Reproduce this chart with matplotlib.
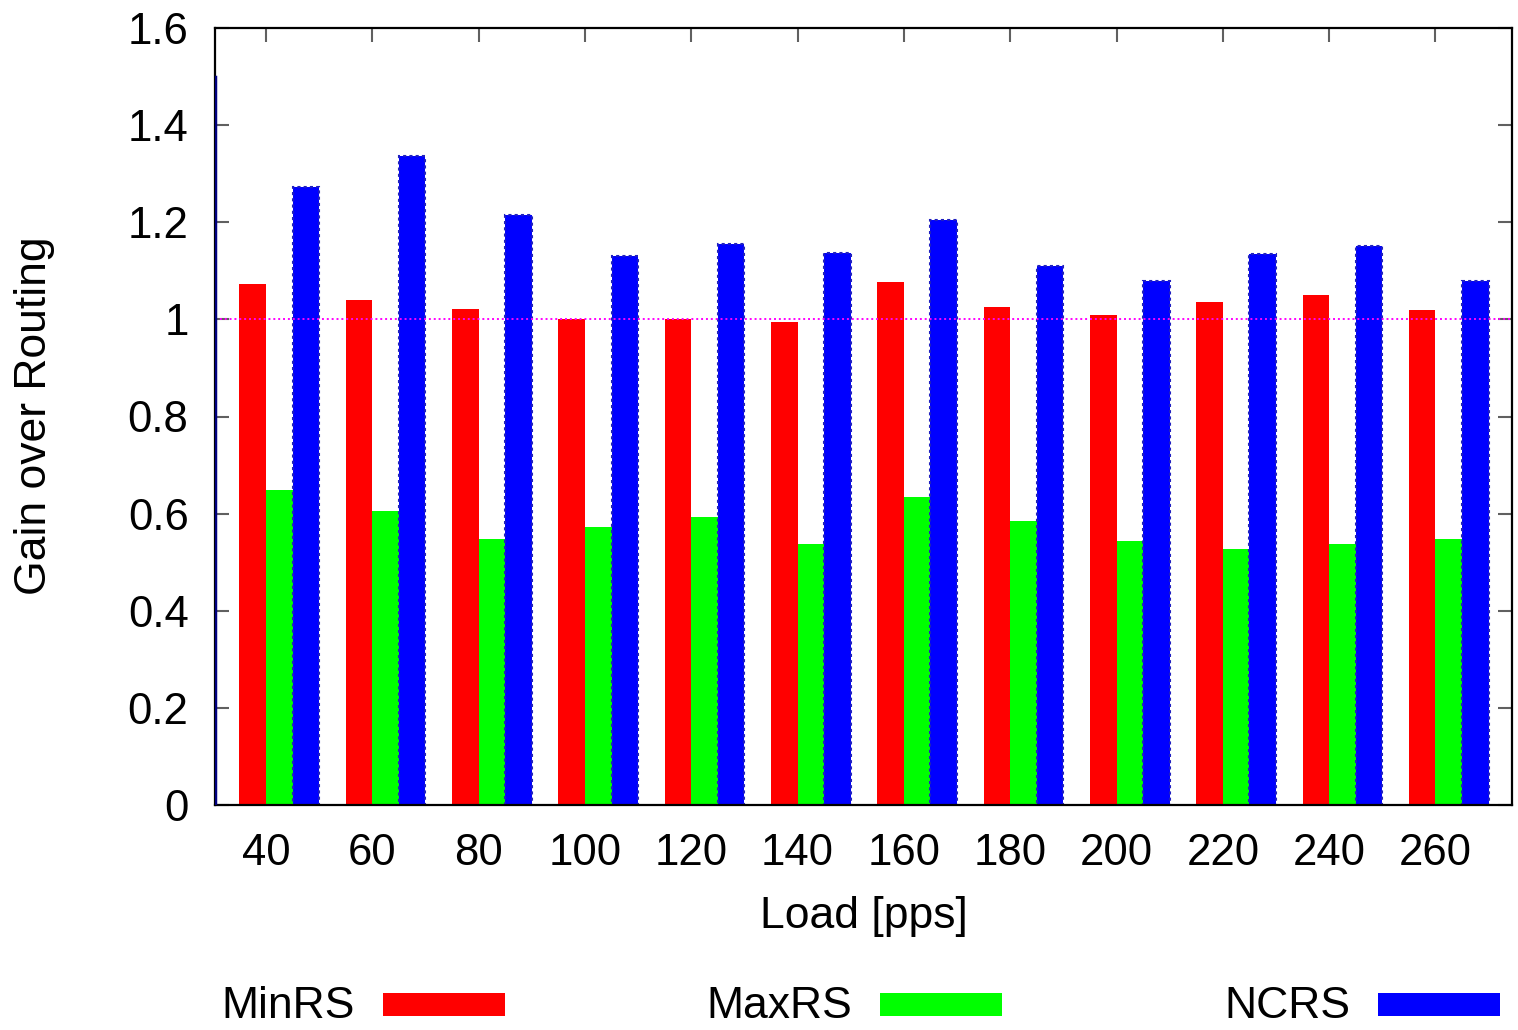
import matplotlib
matplotlib.use("Agg")
import matplotlib.pyplot as plt
from matplotlib.patches import Rectangle
import numpy as np

categories = ["40", "60", "80", "100", "120", "140", "160", "180", "200", "220", "240", "260"]
minrs = [1.072, 1.040, 1.022, 1.000, 1.001, 0.995, 1.077, 1.026, 1.009, 1.036, 1.051, 1.019]
maxrs = [0.648, 0.606, 0.547, 0.573, 0.594, 0.537, 0.634, 0.584, 0.544, 0.527, 0.538, 0.547]
ncrs = [1.272, 1.336, 1.215, 1.130, 1.155, 1.137, 1.204, 1.110, 1.078, 1.135, 1.151, 1.078]
series_names = ["MinRS", "MaxRS", "NCRS"]
series_colors = ["#ff0000", "#00ff00", "#0000ff"]
yticks = [0, 0.2, 0.4, 0.6, 0.8, 1, 1.2, 1.4, 1.6]
ytick_labels = ["0", "0.2", "0.4", "0.6", "0.8", "1", "1.2", "1.4", "1.6"]

plt.rcParams['font.family'] = ['Liberation Sans', 'DejaVu Sans']
FS_TICK = 31.5
FS = 32

W, H = 1518, 1030
fig = plt.figure(figsize=(W / 100, H / 100), dpi=100)
ax = fig.add_axes([215 / W, 1 - 805 / H, (1512 - 215) / W, (805 - 28) / H])

x = np.arange(len(categories))
bw = 0.25
ax.bar(x - 0.125, minrs, bw, color=series_colors[0], linewidth=0, zorder=2)
ax.bar(x + 0.125, maxrs, bw, color=series_colors[1], linewidth=0, zorder=2)
ax.bar(x + 0.375, ncrs, bw, color=series_colors[2], edgecolor="#2020c0",
       linestyle=(0, (1.5, 1.5)), linewidth=1.5, zorder=2)

ax.axhline(1.0, color="#ff00ff", linestyle=(0, (1, 1.5)), linewidth=1.4, zorder=3)

ax.set_xlim(-0.48, 11.72)
ax.set_ylim(0, 1.6)
ax.axvline(-0.48, ymin=0, ymax=1.5 / 1.6, color="#000080", linewidth=2.5, zorder=4)

ax.set_xticks(x)
ax.set_xticklabels(categories, fontsize=FS_TICK)
ax.set_yticks(yticks)
ax.set_yticklabels(ytick_labels, fontsize=FS_TICK)
ax.tick_params(axis='both', direction='in', length=10, width=1.5, color="#606060",
               top=True, right=True)
ax.tick_params(axis='y', pad=19)
ax.tick_params(axis='x', pad=20)

for s in ax.spines.values():
    s.set_linewidth(1.6)
    s.set_color("black")

ax.set_xlabel("Load [pps]", fontsize=FS, labelpad=16)
fig.text(35 / W, 1 - 416 / H, "Gain over Routing", fontsize=FS, rotation=90,
         ha='center', va='center')

# legend row
leg_y = 1 - 1007 / H
text_right = [355, 852, 1350]
patch_left = [383, 880, 1378]
for name, col, tr, pl in zip(series_names, series_colors, text_right, patch_left):
    fig.text(tr / W, leg_y, name, fontsize=FS, ha='right', va='center')
    fig.patches.append(Rectangle((pl / W, 1 - 1016 / H), 122 / W, 23 / H,
                                 transform=fig.transFigure, facecolor=col,
                                 edgecolor='none', figure=fig))

fig.savefig("out.png", dpi=100)
